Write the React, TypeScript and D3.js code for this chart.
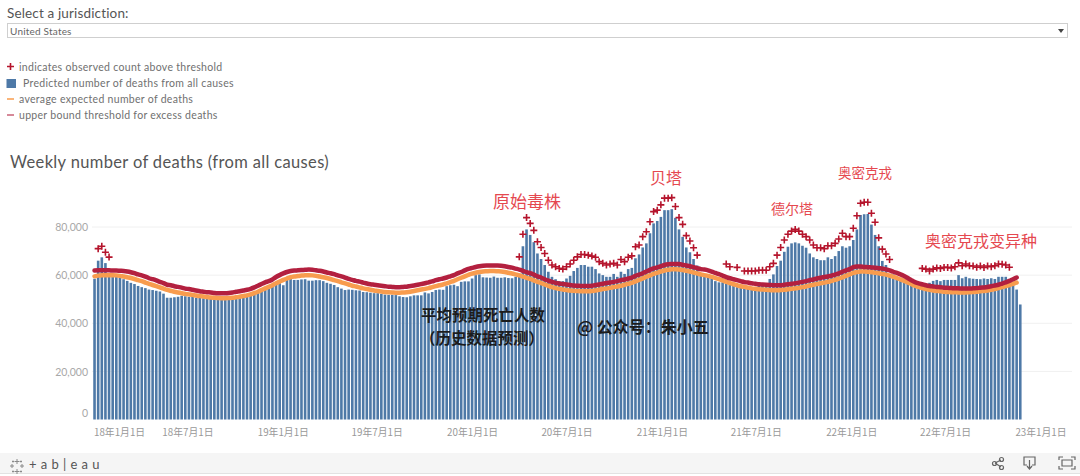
import * as d3 from "d3";
import React, { useEffect, useRef } from "react";

// all values in thousands of deaths, one per week
const firstWeek = new Date(2018, 0, 3);

const predicted = [
  58.5, 66, 67.4, 65, 59.8, 59.3, 59.2, 58.8, 58.3, 57.6,
  56.8, 56.3, 55.5, 55, 54.6, 54, 53.8, 53.5, 53.2, 52.3,
  50.6, 50.6, 50.8, 51, 51.4, 51.2, 51, 50.9, 50.6, 50.5,
  50.4, 50.3, 50.2, 50.2, 50.1, 50.2, 50.2, 50.1, 50.3, 50.4,
  50.5, 50.9, 51.4, 52, 53, 53.3, 54.4, 54.8, 55, 56,
  56.5, 56.7, 55.8, 58.3, 58.4, 58, 58, 58.2, 58.3, 57.7,
  57.7, 57.9, 57.9, 57.5, 56.8, 56.4, 55.9, 55, 54.4, 53.8,
  54, 53.9, 53.7, 53.6, 53, 52.9, 52.7, 52.5, 52.5, 52.2,
  51.9, 51.8, 51.8, 51.7, 51.2, 50.9, 50.8, 51.2, 51.6, 51.6,
  51.6, 52.8, 52.4, 53, 53.8, 54, 53.9, 55.4, 55.8, 56,
  55.4, 57.2, 57.4, 57.4, 58.6, 60, 60.3, 59.1, 59, 58.9,
  59.4, 58.9, 58.9, 59.1, 58.8, 58.7, 59.3, 60.6, 72, 79,
  76.7, 73.7, 69, 66.7, 64.2, 61.4, 59.3, 58.3, 57.5, 57.5,
  58.6, 59.7, 61.7, 63, 64.2, 64.2, 63.5, 63.5, 62.5, 60.7,
  60, 59.3, 59.3, 60.5, 59.3, 61.4, 60.5, 62.5, 63, 67,
  68.6, 71.5, 73.2, 77.4, 81.5, 82.5, 84.2, 87, 87, 87.4,
  83.8, 79, 75.9, 71.5, 69.5, 66.7, 64, 60.5, 60, 59.5,
  58.7, 57.5, 57, 57, 56.5, 56, 55.8, 55, 54.8, 54.5,
  54.4, 54.6, 55, 56.5, 56.3, 55.9, 58.4, 60.3, 63.8, 66,
  69.7, 71.8, 73.2, 73.6, 73.2, 72.2, 71.4, 69, 67.4, 66.7,
  66.2, 66.2, 67.4, 66.7, 67.9, 70, 72, 71.4, 72, 74.6,
  79, 85, 85.3, 85.4, 81, 76.7, 72, 65.9, 64.2, 60.5,
  60.3, 59.3, 58.7, 57.3, 56.5, 55.6, 55.2, 54.8, 54.6, 55.6,
  56.8, 57.6, 58, 57.5, 58, 58, 58, 58, 60, 58.7,
  59.3, 58.7, 58.5, 58.4, 58.3, 58.6, 58.4, 58.7, 58.4, 59.3,
  59.3, 59.3, 58.3, 57.2, 54, 47.8,
];

const upperBound = [
  61.9, 62, 62, 62, 62, 61.9, 61.9, 61.8, 61.7, 61.5,
  61.2, 60.8, 60.3, 59.9, 59.4, 58.7, 58.3, 57.8, 57.2, 56.7,
  56, 55.8, 55.4, 55.1, 54.8, 54.4, 54.2, 53.9, 53.6, 53.3,
  53.1, 52.9, 52.8, 52.6, 52.5, 52.5, 52.5, 52.6, 52.8, 53.1,
  53.3, 53.6, 53.9, 54.3, 54.9, 55.6, 56.3, 57, 57.5, 58.2,
  59.2, 60, 60.7, 61.3, 61.7, 61.9, 62, 62.1, 62.2, 62.3,
  62.2, 62, 61.8, 61.5, 61.1, 60.8, 60.4, 59.9, 59.5, 59,
  58.4, 58, 57.6, 57.3, 56.9, 56.5, 56.2, 56, 55.8, 55.6,
  55.4, 55.2, 55.1, 55, 55, 55.1, 55.2, 55.5, 55.7, 56,
  56.3, 56.6, 57, 57.4, 57.9, 58.3, 58.6, 59, 59.5, 60,
  60.7, 61.3, 62, 62.6, 63, 63.4, 63.7, 63.9, 64, 64,
  64, 64, 63.9, 63.7, 63.4, 63.1, 62.7, 62.3, 61.8, 61.2,
  60.8, 60.2, 59.5, 59, 58.3, 57.7, 57.2, 56.8, 56.5, 56.3,
  56.1, 55.9, 55.7, 55.6, 55.5, 55.5, 55.5, 55.6, 55.9, 56.1,
  56.4, 56.7, 56.9, 57.2, 57.5, 57.9, 58.2, 58.6, 59, 59.7,
  60.2, 60.8, 61.5, 62.2, 62.8, 63.2, 63.7, 64.2, 64.5, 64.6,
  64.6, 64.6, 64.3, 64, 63.7, 63.3, 62.9, 62.5, 62.3, 62,
  61.5, 60.9, 60.4, 59.8, 59.2, 58.7, 58.3, 57.9, 57.5, 57.1,
  56.9, 56.6, 56.4, 56.2, 56.1, 56, 55.9, 55.8, 55.8, 55.8,
  56, 56.2, 56.4, 56.6, 56.9, 57.2, 57.5, 57.9, 58.2, 58.6,
  58.9, 59.2, 59.4, 59.8, 60.2, 60.7, 61.4, 62, 62.5, 63.3,
  63.6, 63.6, 63.4, 63.3, 63.2, 63.1, 62.9, 62.7, 62.4, 62,
  61.4, 60.9, 60.3, 59.6, 58.8, 57.9, 57.1, 56.6, 56.2, 55.8,
  55.5, 55.3, 55.1, 55, 54.8, 54.7, 54.6, 54.5, 54.5, 54.4,
  54.4, 54.4, 54.5, 54.6, 54.8, 54.9, 55.1, 55.4, 55.7, 56,
  56.5, 57, 57.6, 58.3, 59,
];

const expected = [
  59.5, 59.8, 59.9, 60, 60, 60, 59.9, 59.7, 59.4, 59.1,
  58.8, 58.4, 57.9, 57.5, 56.9, 56.4, 55.9, 55.4, 54.9, 54.4,
  53.9, 53.5, 53.1, 52.8, 52.5, 52.2, 52, 51.8, 51.5, 51.3,
  51.1, 50.9, 50.7, 50.6, 50.5, 50.4, 50.4, 50.5, 50.6, 50.8,
  51, 51.3, 51.6, 52, 52.5, 53.1, 53.8, 54.5, 55.1, 55.8,
  56.6, 57.3, 58, 58.6, 59.1, 59.4, 59.6, 59.8, 59.9, 60,
  59.9, 59.7, 59.4, 59.1, 58.8, 58.4, 57.9, 57.5, 57, 56.6,
  56.1, 55.6, 55.3, 54.9, 54.5, 54.2, 53.9, 53.6, 53.4, 53.2,
  53, 52.9, 52.8, 52.7, 52.7, 52.8, 52.9, 53.1, 53.4, 53.7,
  54, 54.3, 54.6, 55, 55.4, 55.8, 56.1, 56.6, 57.1, 57.6,
  58.3, 58.9, 59.5, 60.1, 60.6, 61, 61.3, 61.5, 61.6, 61.7,
  61.7, 61.6, 61.5, 61.3, 61, 60.7, 60.3, 59.9, 59.4, 58.9,
  58.4, 57.8, 57.2, 56.7, 56.1, 55.5, 55, 54.6, 54.3, 54,
  53.8, 53.6, 53.5, 53.4, 53.3, 53.3, 53.3, 53.4, 53.6, 53.9,
  54.2, 54.4, 54.7, 55, 55.3, 55.6, 56, 56.4, 56.8, 57.4,
  58, 58.6, 59.3, 59.9, 60.5, 61, 61.5, 61.9, 62.2, 62.4,
  62.4, 62.3, 62.1, 61.8, 61.5, 61.1, 60.7, 60.3, 60, 59.7,
  59.3, 58.8, 58.3, 57.8, 57.2, 56.7, 56.2, 55.8, 55.4, 55.1,
  54.8, 54.5, 54.3, 54.1, 54, 53.9, 53.8, 53.7, 53.7, 53.8,
  53.9, 54.1, 54.3, 54.5, 54.7, 55, 55.3, 55.7, 56, 56.3,
  56.6, 56.9, 57.2, 57.6, 58, 58.5, 59.1, 59.7, 60.3, 60.9,
  61.3, 61.5, 61.5, 61.4, 61.2, 61, 60.8, 60.5, 60.2, 59.8,
  59.3, 58.8, 58.2, 57.6, 57, 56.3, 55.6, 55.1, 54.6, 54.2,
  53.9, 53.6, 53.4, 53.3, 53.1, 53, 52.9, 52.9, 52.8, 52.8,
  52.8, 52.9, 53, 53.1, 53.3, 53.4, 53.6, 53.9, 54.2, 54.6,
  55, 55.4, 55.9, 56.4, 56.9,
];

// weeks where the observed count was above the threshold
const observedWeeks = [
  ...d3.range(1, 5),
  ...d3.range(117, 167),
  174, 175, 177,
  ...d3.range(179, 220),
  ...d3.range(228, 253),
];
const observedCounts = [
  71, 72, 69.5, 67.5,
  67.6, 77, 83.9, 81.5, 78.6, 73.9, 71.5, 69, 66.2, 64.2,
  63.5, 62.8, 62.5, 63.5, 64.6, 66.2, 67.6, 68.6, 68.6, 68.3,
  67.9, 67.4, 65.6, 64.9, 64.2, 64.6, 64.9, 64.2, 66.5, 65.6,
  67.4, 68, 71.8, 72.5, 76, 78, 82.2, 86.4, 87, 89.2,
  92, 92, 92.2, 88.5, 83.9, 81.1, 76.4, 74.2, 71.4, 68.3,
  64.6, 63.5, 63.2,
  61.7, 61.7, 61.7, 61.7, 62, 62, 62, 63.5, 64.9, 68.3,
  71.5, 74.6, 77, 78.3, 79, 78.3, 77, 76, 74.6, 72.5,
  71.4, 71.4, 71, 72.2, 72.2, 73.2, 75, 77.4, 76, 76,
  79.5, 84.7, 89.9, 90.3, 90.3, 85.7, 82, 75.5, 70.8, 68.8, 66.5,
  62.8, 62.5, 61.7, 62.5, 63, 62.8, 63.2, 63.2, 63, 63.5,
  65.1, 63.9, 64.6, 63.9, 63.8, 63.3, 63.8, 63.2, 63.8, 63.5,
  63.9, 64.6, 64.5, 64.2, 63.3,
];

const yTicks = [0, 20, 40, 60, 80];
const legendLabels = [
  "indicates observed count above threshold",
  "Predicted number of deaths from all causes",
  "average expected number of deaths",
  "upper bound threshold for excess deaths",
];
const redNotes = [
  { text: "原始毒株", x: 493, y: 208, size: 17 },
  { text: "贝塔", x: 650, y: 184, size: 16 },
  { text: "德尔塔", x: 771, y: 214, size: 14 },
  { text: "奥密克戎", x: 838, y: 178, size: 13.5 },
  { text: "奥密克戎变异种", x: 925, y: 247, size: 16 },
];
const blackNotes = [
  { text: "平均预期死亡人数", x: 421, y: 321, size: 15.5 },
  { text: "（历史数据预测）", x: 420, y: 344, size: 15.5 },
  { text: "@ 公众号：朱小五", x: 577, y: 333, size: 16 },
];

const uiFont = "Lato, 'Open Sans', sans-serif";
const cjkFont = "'Noto Sans CJK SC', sans-serif";
const barColor = "#4e79a7";
const expectedColor = "#f89c4e";
const boundColor = "#b3203f";
const crossColor = "#b5142c";

export default function App() {
  const chartRef = useRef<SVGSVGElement>(null);

  useEffect(() => {
    const chart = d3.select(chartRef.current);
    chart.selectAll("*").remove();

    const xScale = d3
      .scaleTime()
      .domain([new Date(2018, 0, 1), new Date(2023, 0, 1)])
      .range([93.5, 1040.5]);
    const yScale = d3.scaleLinear().domain([0, 80]).range([419.5, 227]);
    const weekDate = (i: number) => d3.timeDay.offset(firstWeek, i * 7);

    // top controls
    chart
      .append("text")
      .text("Select a jurisdiction:")
      .attr("x", 7)
      .attr("y", 18)
      .attr("font-size", 13.5)
      .attr("letter-spacing", 0.15)
      .attr("fill", "#555");
    chart
      .append("rect")
      .attr("x", 7.5)
      .attr("y", 23.5)
      .attr("width", 1060)
      .attr("height", 14)
      .attr("fill", "#fff")
      .attr("stroke", "#cfcfcf");
    chart
      .append("text")
      .text("United States")
      .attr("x", 10)
      .attr("y", 34.5)
      .attr("font-size", 10)
      .attr("letter-spacing", 0.2)
      .attr("fill", "#666");
    chart
      .append("path")
      .attr("d", "M1058 29h6l-3 4z")
      .attr("fill", "#444");

    // legend
    const legendY = [67, 83, 99, 115];
    legendLabels.forEach((label, i) => {
      chart
        .append("text")
        .text(label)
        .attr("x", i === 1 ? 23 : 19)
        .attr("y", legendY[i] + 3.5)
        .attr("font-size", 10.5)
        .attr("letter-spacing", 0.3)
        .attr("fill", "#707070");
    });
    chart
      .append("path")
      .attr("d", "M7 66.5h7M10.5 63v7")
      .attr("stroke", crossColor)
      .attr("stroke-width", 1.6);
    chart
      .append("rect")
      .attr("x", 6.5)
      .attr("y", 79)
      .attr("width", 9.5)
      .attr("height", 9)
      .attr("fill", barColor);
    chart
      .append("line")
      .attr("x1", 7)
      .attr("x2", 14)
      .attr("y1", 99)
      .attr("y2", 99)
      .attr("stroke", expectedColor)
      .attr("stroke-width", 1.5);
    chart
      .append("line")
      .attr("x1", 7)
      .attr("x2", 14)
      .attr("y1", 115)
      .attr("y2", 115)
      .attr("stroke", boundColor)
      .attr("stroke-width", 1.5)
      .attr("opacity", 0.7);

    chart
      .append("text")
      .text("Weekly number of deaths (from all causes)")
      .attr("x", 10)
      .attr("y", 168)
      .attr("font-size", 16.5)
      .attr("letter-spacing", 0.35)
      .attr("fill", "#555");

    // grid
    chart
      .append("g")
      .selectAll("line")
      .data(yTicks.filter((d) => d > 0))
      .join("line")
      .attr("x1", 92)
      .attr("x2", 1072)
      .attr("y1", (d) => yScale(d))
      .attr("y2", (d) => yScale(d))
      .attr("stroke", "#f0f0f0");

    // axes
    const axisY = chart
      .append("g")
      .attr("transform", "translate(92,0)")
      .call(
        d3
          .axisLeft(yScale)
          .tickValues(yTicks)
          .tickSize(0)
          .tickPadding(4)
          .tickFormat((d) => d3.format(",")((d as number) * 1000))
      );
    axisY.select(".domain").remove();
    axisY
      .selectAll("text")
      .attr("font-family", uiFont)
      .attr("font-size", 10.5)
      .attr("fill", "#a8a8a8")
      .attr("dy", (d) => ((d as number) === 0 ? "-0.28em" : "0.35em"));

    const axisX = chart
      .append("g")
      .attr("transform", "translate(0,420)")
      .call(
        d3
          .axisBottom(xScale)
          .ticks(d3.timeMonth.every(6) as any)
          .tickSize(0)
          .tickPadding(9)
          .tickFormat(d3.timeFormat("%y年%-m月%-d日") as any)
      );
    axisX.select(".domain").remove();
    axisX
      .selectAll("text")
      .attr("font-family", cjkFont)
      .attr("font-size", 9.8)
      .attr("fill", "#999")
      .attr("text-anchor", (_, i) => (i === 0 ? "start" : "middle"));

    // bars
    chart
      .append("g")
      .selectAll("rect")
      .data(predicted)
      .join("rect")
      .attr("x", (_, i) => xScale(weekDate(i)) - 1.3)
      .attr("width", 2.6)
      .attr("y", (d) => yScale(d))
      .attr("height", (d) => yScale(0) - yScale(d))
      .attr("fill", barColor);

    // expected and threshold lines
    const weekLine = d3
      .line<number>()
      .x((_, i) => xScale(weekDate(i)))
      .y((d) => yScale(d))
      .curve(d3.curveMonotoneX);
    chart
      .append("path")
      .attr("d", weekLine(expected))
      .attr("fill", "none")
      .attr("stroke", expectedColor)
      .attr("stroke-width", 4.5)
      .attr("stroke-linecap", "round");
    chart
      .append("path")
      .attr("d", weekLine(upperBound))
      .attr("fill", "none")
      .attr("stroke", boundColor)
      .attr("stroke-width", 4.5)
      .attr("stroke-linecap", "round");

    // observed crosses
    chart
      .append("g")
      .selectAll("path")
      .data(observedCounts)
      .join("path")
      .attr("transform", (d, i) => `translate(${xScale(weekDate(observedWeeks[i]))},${yScale(d)})`)
      .attr("d", "M-3.5 0H3.5M0 -3.5V3.5")
      .attr("stroke", crossColor)
      .attr("stroke-width", 1.6)
      .attr("fill", "none");

    // annotations
    redNotes.forEach((n) => {
      chart
        .append("text")
        .text(n.text)
        .attr("x", n.x)
        .attr("y", n.y)
        .attr("font-family", cjkFont)
        .attr("font-size", n.size)
        .attr("fill", "#e5484f");
    });
    blackNotes.forEach((n) => {
      chart
        .append("text")
        .text(n.text)
        .attr("x", n.x)
        .attr("y", n.y)
        .attr("font-family", cjkFont)
        .attr("font-size", n.size)
        .attr("font-weight", 700)
        .attr("fill", "#1c1c1c");
    });

    // tableau footer
    chart
      .append("rect")
      .attr("x", 0)
      .attr("y", 453)
      .attr("width", 1080)
      .attr("height", 20)
      .attr("fill", "#f5f5f5");
    chart
      .append("line")
      .attr("x1", 0)
      .attr("x2", 1080)
      .attr("y1", 473.5)
      .attr("y2", 473.5)
      .attr("stroke", "#e2e2e2");
    chart
      .append("path")
      .attr(
        "d",
        "M17 459v5M14.5 461.5h5M17 469v5M14.5 471.5h5M12 464v4M10 466h4M22 464v4M20 466h4M13 460.5v2M12 461.5h2M21 460.5v2M20 461.5h2M13 470.5v2M12 471.5h2M21 470.5v2M20 471.5h2"
      )
      .attr("stroke", "#8a8a8a")
      .attr("stroke-width", 1);
    chart
      .append("text")
      .text("+ a b | e a u")
      .attr("x", 29)
      .attr("y", 469)
      .attr("font-size", 13)
      .attr("letter-spacing", 0.45)
      .attr("fill", "#555");
    const icons = chart
      .append("g")
      .attr("fill", "none")
      .attr("stroke", "#666")
      .attr("stroke-width", 1.2);
    icons.append("path").attr("d", "M995 463l6-3M995 463l6 4");
    icons.append("circle").attr("cx", 994.5).attr("cy", 463.5).attr("r", 2);
    icons.append("circle").attr("cx", 1001.5).attr("cy", 459.5).attr("r", 2);
    icons.append("circle").attr("cx", 1001.5).attr("cy", 467.5).attr("r", 2);
    icons.append("path").attr("d", "M1027 465h-3v-8h11v8h-3M1029.5 460v8M1027 466l2.5 3 2.5-3");
    icons
      .append("path")
      .attr("d", "M1059 460v-3h4M1071 457h4v3M1075 466v3h-4M1063 469h-4v-3M1062 460h10v6h-10z");
  }, []);

  return (
    <svg
      ref={chartRef}
      width={1080}
      height={476}
      style={{ position: "absolute", left: 0, top: 0, background: "#fff", fontFamily: uiFont }}
    />
  );
}
